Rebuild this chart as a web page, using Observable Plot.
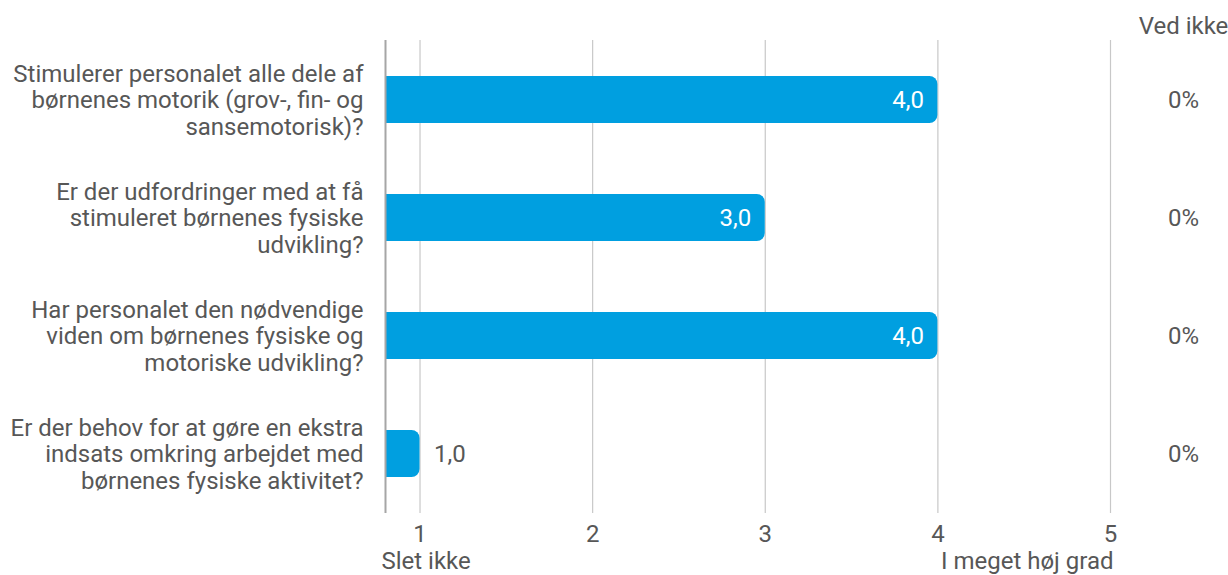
<!DOCTYPE html>
<html>
<head>
<meta charset="utf-8">
<script src="https://cdn.jsdelivr.net/npm/d3@7"></script>
<script src="https://cdn.jsdelivr.net/npm/@observablehq/plot@0.6"></script>
<style>
  html, body { margin: 0; padding: 0; background: #fff; }
  svg { display: block; }
</style>
</head>
<body>
<div id="chart"></div>
<script>
const categories = [
  "Stimulerer personalet alle dele af\nbørnenes motorik (grov-, fin- og\nsansemotorisk)?",
  "Er der udfordringer med at få\nstimuleret børnenes fysiske\nudvikling?",
  "Har personalet den nødvendige\nviden om børnenes fysiske og\nmotoriske udvikling?",
  "Er der behov for at gøre en ekstra\nindsats omkring arbejdet med\nbørnenes fysiske aktivitet?"
];
const values = [4.0, 3.0, 4.0, 1.0];
const dontKnow = ["0%", "0%", "0%", "0%"];
const ticks = [1, 2, 3, 4, 5];
const scaleLabels = ["Slet ikke", "I meget høj grad"];
const dontKnowHeader = "Ved ikke";

const xMin = 0.8, xMax = 5;
const data = categories.map((c, i) => ({category: c, value: values[i], dk: dontKnow[i]}));
const fmt = v => v.toFixed(1).replace(".", ",");
const textColor = "#575757";
const barColor = "#009fe0";
const fs = 24;

const chart = Plot.plot({
  width: 1228,
  height: 575,
  marginLeft: 385,
  marginRight: 118,
  marginTop: 40,
  marginBottom: 62,
  style: {fontFamily: "Roboto, sans-serif", fontSize: fs + "px", color: textColor, background: "#fff"},
  x: {domain: [xMin, xMax], axis: null},
  y: {domain: categories, axis: null, paddingInner: 0.6, paddingOuter: 0.3},
  marks: [
    Plot.ruleX(ticks, {stroke: "#c8c8c8", strokeWidth: 1.2}),
    Plot.barX(data, {y: "category", x1: xMin, x2: "value", fill: barColor, rx: 8}),
    Plot.barX(data, {y: "category", x1: xMin, x2: d => d.value - 0.15, fill: barColor}),
    Plot.ruleX([xMin], {stroke: "#a6a6a6", strokeWidth: 2}),
    // value labels
    Plot.text(data.filter(d => d.value >= 2), {y: "category", x: "value", text: d => fmt(d.value), textAnchor: "end", dx: -14, fill: "#fff", fontSize: fs}),
    Plot.text(data.filter(d => d.value < 2), {y: "category", x: "value", text: d => fmt(d.value), textAnchor: "start", dx: 14, fill: textColor, fontSize: fs}),
    // category labels
    Plot.text(data, {y: "category", text: "category", frameAnchor: "left", dx: -22, textAnchor: "end", lineHeight: 1.09, fill: textColor, fontSize: fs}),
    // dont know column
    Plot.text(data, {y: "category", text: "dk", frameAnchor: "right", dx: 73, textAnchor: "middle", fill: textColor, fontSize: fs}),
    Plot.text([dontKnowHeader], {text: d => d, frameAnchor: "top-right", dx: 73, dy: -14, textAnchor: "middle", lineAnchor: "middle", fill: textColor, fontSize: fs}),
    // tick labels
    Plot.text(ticks, {x: d => d, text: d => String(d), frameAnchor: "bottom", dy: 21, lineAnchor: "middle", fill: textColor, fontSize: fs}),
    Plot.text([scaleLabels[0]], {x: xMin, text: d => d, frameAnchor: "bottom", dy: 48, lineAnchor: "middle", textAnchor: "start", dx: -4, fill: textColor, fontSize: fs}),
    Plot.text([scaleLabels[1]], {x: xMax, text: d => d, frameAnchor: "bottom", dy: 48, lineAnchor: "middle", textAnchor: "end", dx: 3, fill: textColor, fontSize: fs})
  ]
});
document.getElementById("chart").appendChild(chart);
</script>
</body>
</html>
